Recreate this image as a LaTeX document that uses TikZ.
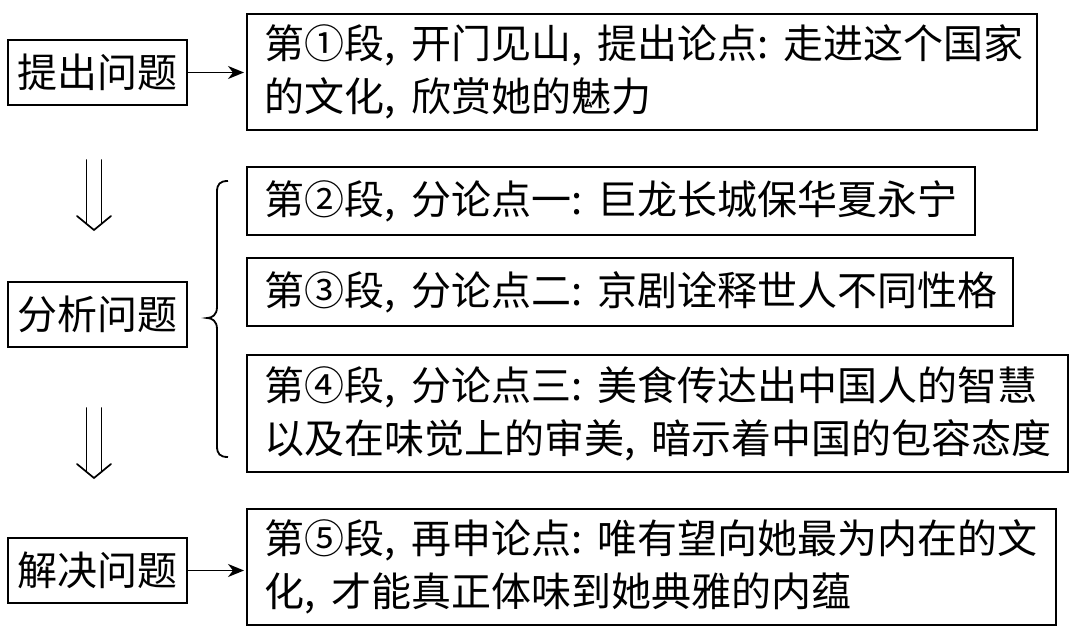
\documentclass[tikz,border=0pt]{standalone}
\usepackage{fontspec}
\newfontfamily\cjk{Noto Sans CJK SC}
\usetikzlibrary{arrows.meta}
\newcommand{\pcomma}{,\kern15pt}
\newcommand{\pcolon}{:\kern15pt}
\begin{document}
\begin{tikzpicture}[x=1pt,y=-1pt,
  every node/.style={font=\cjk\fontsize{40}{53}\selectfont},
  leftbox/.style={draw, line width=1.8pt, minimum width=179pt, minimum height=65pt, inner sep=0pt},
  rightbox/.style={draw, line width=1.8pt, anchor=north west, inner xsep=18pt, inner ysep=0pt, align=left},
  conn/.style={line width=1.7pt, -{Stealth[length=16pt,width=13pt,inset=5pt]}, shorten >=2pt},
  dbl/.style={line width=1.7pt, line cap=round, line join=miter},
  bracestyle/.style={line width=1.8pt}
]
\useasboundingbox (0,0) rectangle (1080,640);
% left boxes
\node[leftbox] (A) at (97.5,72.5) {提出问题};
\node[leftbox] (B) at (97.5,314.5) {分析问题};
\node[leftbox] (C) at (97.5,570.5) {解决问题};
% right boxes
\node[rightbox, text width=754pt, minimum height=116pt] (P1) at (246,13)
  {第①段\pcomma 开门见山\pcomma 提出论点\pcolon 走进这个国家\\的文化\pcomma 欣赏她的魅力};
\node[rightbox, text width=692pt, minimum height=68pt] (P2) at (246,166)
  {第②段\pcomma 分论点一\pcolon 巨龙长城保华夏永宁};
\node[rightbox, text width=730pt, minimum height=68pt] (P3) at (246,257)
  {第③段\pcomma 分论点二\pcolon 京剧诠释世人不同性格};
\node[rightbox, text width=785pt, minimum height=117pt] (P4) at (246,354)
  {第④段\pcomma 分论点三\pcolon 美食传达出中国人的智慧\\以及在味觉上的审美\pcomma 暗示着中国的包容态度};
\node[rightbox, text width=773pt, minimum height=116pt] (P5) at (246,508)
  {第⑤段\pcomma 再申论点\pcolon 唯有望向她最为内在的文\\化\pcomma 才能真正体味到她典雅的内蕴};
% arrows
\draw[conn] (A.east) -- (A.east -| P1.west);
\draw[conn] (C.east) -- (C.east -| P5.west);
% double arrows
\coordinate (d1) at (94,160);
\coordinate (d2) at (94,408);
\foreach \d in {d1,d2}{
  \draw[dbl] ([xshift=-7.5pt]\d) -- ([xshift=-7.5pt,yshift=-63.8pt]\d);
  \draw[dbl] ([xshift=7.5pt]\d) -- ([xshift=7.5pt,yshift=-63.8pt]\d);
  \draw[dbl] ([xshift=-17pt,yshift=-56pt]\d) -- ([yshift=-70pt]\d) -- ([xshift=17pt,yshift=-56pt]\d);
}
% brace
\draw[bracestyle] (228,181) .. controls (220,181) and (217,184) .. (217,192)
  -- (217,307) .. controls (217,315) and (212,318) .. (207,318)
  .. controls (212,318) and (217,321) .. (217,329)
  -- (217,446) .. controls (217,454) and (220,457) .. (228,457);
\end{tikzpicture}
\end{document}
